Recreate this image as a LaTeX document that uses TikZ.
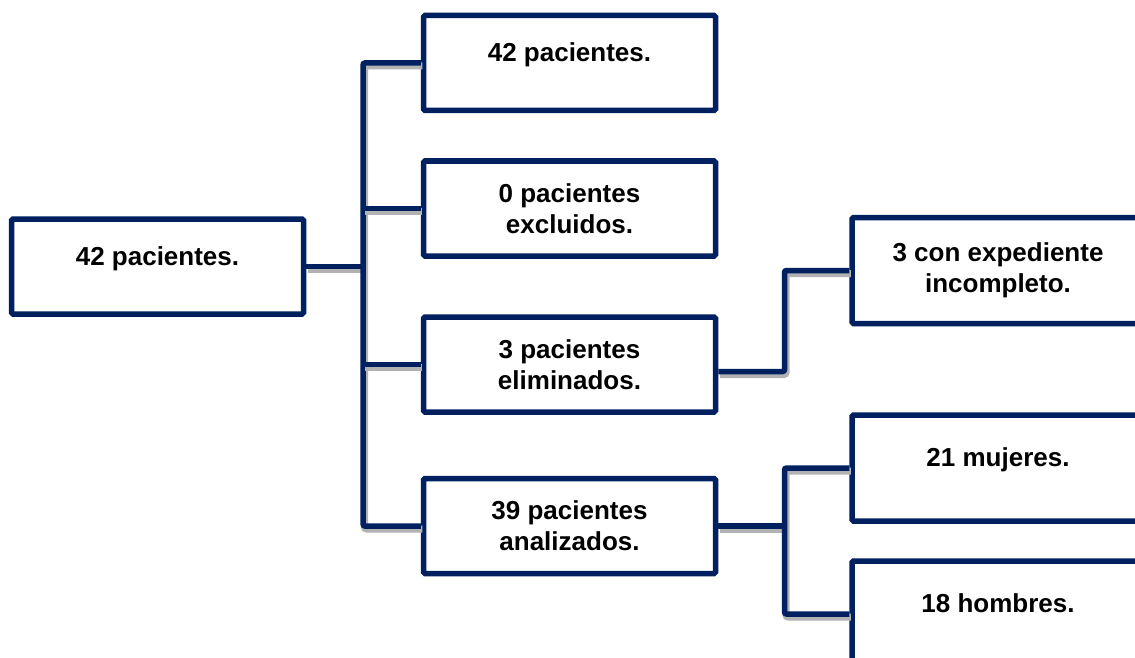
\documentclass[tikz,border=0pt]{standalone}
\usepackage{fontspec}
\setmainfont{Liberation Sans}
\definecolor{navy}{HTML}{002060}

\begin{document}
\begin{tikzpicture}[x=1pt, y=-1pt,
  box/.style={rectangle, draw=navy, line width=5.5pt, rounded corners=1.5pt, minimum width=292pt, minimum height=95pt, inner sep=0pt, align=center, font=\fontsize{26}{31}\selectfont\bfseries},
  tall/.style={box, minimum height=106pt},
  oneline/.style={text depth=21pt},
  link/.style={draw=navy, line width=5.5pt, rounded corners=2pt, preaction={draw=black!30, line width=7pt, transform canvas={shift={(1.5pt,-3pt)}}}}]
\useasboundingbox (0,0) rectangle (1135,658);
\clip (0,0) rectangle (1135,658);
\node[box, oneline] (1) at (157.5,266.5) {42 pacientes.};
\node[box, oneline] (2) at (569.5,63) {42 pacientes.};
\node[box] (3) at (569.5,208.5) {0 pacientes\\excluidos.};
\node[box] (4) at (569.5,364.5) {3 pacientes\\eliminados.};
\node[box] (5) at (569.5,526) {39 pacientes\\analizados.};
\node[tall] (6) at (998,270.5) {3 con expediente\\incompleto.};
\node[tall, oneline] (7) at (998,468) {21 mujeres.};
\node[tall, oneline] (8) at (998,614) {18 hombres.};
\coordinate (t) at (363,0);
\coordinate (s) at (784.5,0);

\draw[link] (1.east) -- (1.east -| t);
\draw[link] (2.west) -| (t |- 5.west) -- (5.west);
\draw[link] (3.west) -- (3.west -| t);
\draw[link] (4.west) -- (4.west -| t);
\draw[link] ([yshift=-7pt]4.east) -| (s |- 6.west) -- (6.west);
\draw[link] (5.east) -- (5.east -| s);
\draw[link] (7.west) -| (s |- 8.west) -- (8.west);
\end{tikzpicture}
\end{document}
